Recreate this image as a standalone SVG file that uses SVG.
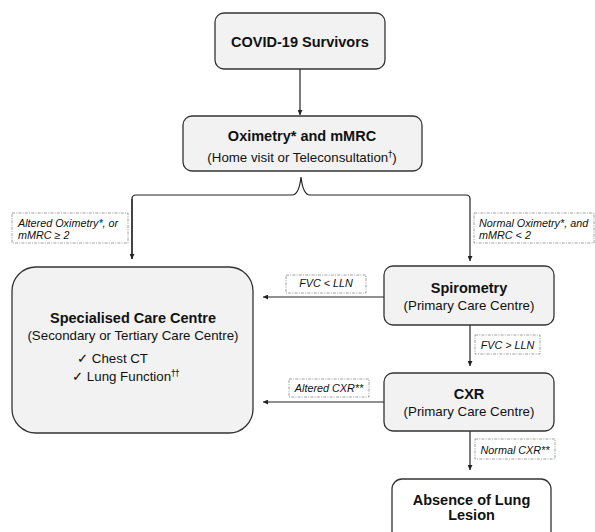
<svg xmlns="http://www.w3.org/2000/svg" width="595" height="532" viewBox="0 0 595 532">
<defs>
<marker id="ah" viewBox="0 0 6 6" refX="6" refY="3" markerWidth="5" markerHeight="5" orient="auto" markerUnits="userSpaceOnUse">
<path d="M0,0 L6,3 L0,6 Z" fill="#222"/>
</marker>
<style>
.box{fill:#f2f2f2;stroke:#333;stroke-width:1.3}
.wbox{fill:#fff;stroke:#333;stroke-width:1.3}
.lbl{fill:#fff;stroke:#888;stroke-width:0.8;stroke-dasharray:3 1.2 1 1.2}
.t{font-family:"Liberation Sans","DejaVu Sans",Arial,sans-serif;fill:#111}
.b{font-weight:bold;font-size:14.5px}
.s{font-size:13.3px}
.i{font-style:italic;font-size:10.8px}
.c{text-anchor:middle}
.sup{font-family:"DejaVu Sans","Liberation Sans",sans-serif;font-size:8px;fill:#111}
.ln{fill:none;stroke:#222;stroke-width:1.2}
</style>
</defs>
<rect width="595" height="532" fill="#fff"/>
<g id="connectors">
<path class="ln" d="M300,69 L300,115" marker-end="url(#ah)"/>
<path class="ln" d="M132,259 L132,199 Q132,195 136,195 L292,195 Q299,195 301,177 Q303,195 310,195 L466,195 Q470,195 470,199 L470,261" marker-end="url(#ah)"/>
<path class="ln" d="M132,199 L132,259" marker-end="url(#ah)"/>
<path class="ln" d="M384,297 L263,297" marker-end="url(#ah)"/>
<path class="ln" d="M470,325 L470,366" marker-end="url(#ah)"/>
<path class="ln" d="M384,402 L263,402" marker-end="url(#ah)"/>
<path class="ln" d="M470,431 L470,470" marker-end="url(#ah)"/>
</g>
<g id="lbl-altered-oxi">
<rect class="lbl" x="12" y="213" width="116" height="30"/>
<text class="t i" x="18" y="226.5">Altered Oximetry*, or</text>
<text class="t i" x="18" y="238.5">mMRC ≥ 2</text>
</g>
<g id="lbl-normal-oxi">
<rect class="lbl" x="474" y="213" width="120" height="30"/>
<text class="t i" x="479" y="226.5">Normal Oximetry*, and</text>
<text class="t i" x="479" y="238.5">mMRC &lt; 2</text>
</g>
<g id="lbl-fvc-low">
<rect class="lbl" x="286" y="275" width="80" height="18"/>
<text class="t i c" x="326" y="287">FVC &lt; LLN</text>
</g>
<g id="lbl-fvc-high">
<rect class="lbl" x="475" y="335" width="65" height="19"/>
<text class="t i c" x="507.5" y="348.5">FVC &gt; LLN</text>
</g>
<g id="lbl-altered-cxr">
<rect class="lbl" x="289" y="379" width="80" height="18"/>
<text class="t i c" x="329" y="392">Altered CXR**</text>
</g>
<g id="lbl-normal-cxr">
<rect class="lbl" x="475" y="439" width="80" height="20"/>
<text class="t i c" x="515" y="453.5">Normal CXR**</text>
</g>
<g id="covid">
<rect class="box" x="215" y="13" width="170" height="56" rx="9"/>
<text class="t b c" x="300" y="46.5">COVID-19 Survivors</text>
</g>
<g id="oximetry">
<rect class="box" x="183" y="116" width="239" height="55" rx="9"/>
<text class="t b c" x="302" y="141">Oximetry* and mMRC</text>
<text class="t s c" x="302" y="161.5">(Home visit or Teleconsultation<tspan class="sup" dy="-5">†</tspan><tspan dy="5">)</tspan></text>
</g>
<g id="specialised">
<rect class="box" x="12" y="267" width="241" height="166" rx="24"/>
<text class="t b c" x="133" y="322.5">Specialised Care Centre</text>
<text class="t s c" x="133" y="340">(Secondary or Tertiary Care Centre)</text>
<text class="t s" x="77" y="362.5">✓ Chest CT</text>
<text class="t s" x="72" y="380.5">✓ Lung Function<tspan class="sup" dy="-5">††</tspan></text>
</g>
<g id="spirometry">
<rect class="box" x="384" y="266" width="170" height="59" rx="9"/>
<text class="t b c" x="469" y="292.5">Spirometry</text>
<text class="t s c" x="469" y="309.5">(Primary Care Centre)</text>
</g>
<g id="cxr">
<rect class="box" x="384" y="373" width="170" height="58" rx="9"/>
<text class="t b c" x="469" y="399">CXR</text>
<text class="t s c" x="469" y="416">(Primary Care Centre)</text>
</g>
<g id="absence">
<rect class="wbox" x="392" y="479" width="159" height="70" rx="10"/>
<text class="t b c" x="471.5" y="504.5">Absence of Lung</text>
<text class="t b c" x="471.5" y="519.5">Lesion</text>
</g>
</svg>
